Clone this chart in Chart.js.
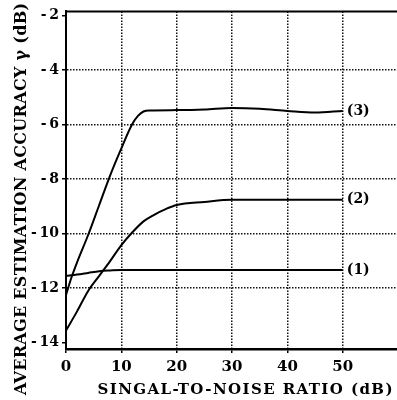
<!DOCTYPE html>
<html>
<head>
<meta charset="utf-8">
<script src="https://cdn.jsdelivr.net/npm/chart.js@4.4.0/dist/chart.umd.min.js"></script>
<style>
  body { margin: 0; background: #fff; }
  #wrap { width: 397px; height: 400px; }
</style>
</head>
<body>
<div id="wrap"><canvas id="accuracyChart"></canvas></div>
<script>
// values: SNR (dB) -> average estimation accuracy (dB)
const snr1 = [0, 2, 4, 6, 8, 10, 20, 30, 40, 50];
const acc1 = [-11.55, -11.5, -11.44, -11.38, -11.35, -11.33, -11.33, -11.33, -11.33, -11.33];

const snr2 = [0, 2, 4, 6, 8, 10, 12, 14, 16, 18, 20, 25, 30, 40, 50];
const acc2 = [-13.55, -12.85, -12.1, -11.55, -11.0, -10.42, -9.95, -9.55, -9.3, -9.1, -8.95, -8.84, -8.76, -8.76, -8.76];

const snr3 = [0, 1, 2, 4, 6, 8, 10, 12, 13, 14, 15, 20, 25, 30, 35, 40, 45, 50];
const acc3 = [-12.25, -11.6, -11.05, -10.05, -8.95, -7.85, -6.87, -5.97, -5.68, -5.52, -5.48, -5.47, -5.45, -5.39, -5.42, -5.5, -5.56, -5.5];

const curveLabels = ['(1)', '(2)', '(3)'];
const xTicks = [0, 10, 20, 30, 40, 50];
const yTicks = [-14, -12, -10, -8, -6, -4, -2];
const xTitle = 'SINGAL-TO-NOISE RATIO (dB)';
const yTitle = 'AVERAGE ESTIMATION ACCURACY \u03b3 (dB)';

const serif = '"DejaVu Serif", "Liberation Serif", serif';

function toPoints(xs, ys) {
    return xs.map((x, i) => ({ x: x, y: ys[i] }));
}

// draw text spread out so it covers roughly `span` pixels
function spacedText(ctx, text, font, span) {
    ctx.font = font;
    ctx.letterSpacing = '0px';
    const w = ctx.measureText(text).width;
    const gap = Math.max(0, (span - w) / (text.length - 1));
    ctx.letterSpacing = gap.toFixed(2) + 'px';
    ctx.fillText(text, gap / 2, 0);
}

// top frame line, curve labels and the two axis titles
const frameAndText = {
    id: 'frameAndText',
    afterDraw(chart) {
        const { ctx, chartArea: a, scales: { x, y } } = chart;
        ctx.save();
        ctx.strokeStyle = '#000';
        ctx.lineWidth = 2;
        ctx.beginPath();
        ctx.moveTo(a.left - 1, a.top);
        ctx.lineTo(a.right, a.top);
        ctx.stroke();

        ctx.fillStyle = '#000';
        ctx.font = 'bold 14px ' + serif;
        ctx.textAlign = 'left';
        ctx.textBaseline = 'middle';
        chart.data.datasets.forEach((ds, i) => {
            const last = ds.data[ds.data.length - 1];
            ctx.fillText(curveLabels[i], x.getPixelForValue(last.x) + 4, y.getPixelForValue(last.y));
        });

        ctx.textAlign = 'center';
        ctx.textBaseline = 'alphabetic';
        ctx.save();
        ctx.translate(245, 394);
        spacedText(ctx, xTitle, 'bold 15px ' + serif, 295);
        ctx.restore();

        ctx.translate(26, 199);
        ctx.rotate(-Math.PI / 2);
        spacedText(ctx, yTitle, 'bold 16px ' + serif, 392);
        ctx.restore();
    }
};

function lineSet(xs, ys) {
    return {
        data: toPoints(xs, ys),
        borderColor: '#000',
        borderWidth: 2,
        pointRadius: 0,
        fill: false,
        cubicInterpolationMode: 'monotone'
    };
}

const ctx = document.getElementById('accuracyChart').getContext('2d');
new Chart(ctx, {
    type: 'line',
    data: {
        datasets: [lineSet(snr1, acc1), lineSet(snr2, acc2), lineSet(snr3, acc3)]
    },
    options: {
        responsive: true,
        maintainAspectRatio: false,
        animation: false,
        layout: { padding: { top: 11, right: 0, left: 0, bottom: 0 } },
        plugins: {
            legend: { display: false },
            tooltip: { enabled: false }
        },
        scales: {
            x: {
                type: 'linear',
                min: 0,
                max: 59.8,
                afterBuildTicks: scale => { scale.ticks = xTicks.map(v => ({ value: v })); },
                afterFit: scale => { scale.height = 51; },
                grid: {
                    color: c => (c.tick && c.tick.value === 0) ? 'rgba(0,0,0,0)' : '#111',
                    lineWidth: 1.5,
                    tickLength: 4,
                    tickColor: '#000',
                    tickWidth: 1.5,
                    tickBorderDash: []
                },
                border: { display: true, color: '#000', width: 2.5, dash: [1.5, 1.5] },
                ticks: {
                    color: '#000',
                    font: { family: serif, size: 15, weight: 'bold' },
                    padding: 5,
                    maxRotation: 0
                }
            },
            y: {
                min: -14.23,
                max: -1.85,
                afterBuildTicks: scale => { scale.ticks = yTicks.map(v => ({ value: v })); },
                afterFit: scale => { scale.width = 66; },
                grid: {
                    color: c => (c.tick && (c.tick.value === -2 || c.tick.value === -14)) ? 'rgba(0,0,0,0)' : '#111',
                    lineWidth: 1.5,
                    tickLength: 4,
                    tickColor: '#000',
                    tickWidth: 1.5,
                    tickBorderDash: []
                },
                border: { display: true, color: '#000', width: 2, dash: [1.5, 1.5] },
                ticks: {
                    color: '#000',
                    font: { family: serif, size: 14, weight: 'bold' },
                    padding: 3,
                    callback: v => v < 0 ? '-\u2009' + Math.abs(v) : String(v)
                }
            }
        }
    },
    plugins: [frameAndText]
});
</script>
</body>
</html>
